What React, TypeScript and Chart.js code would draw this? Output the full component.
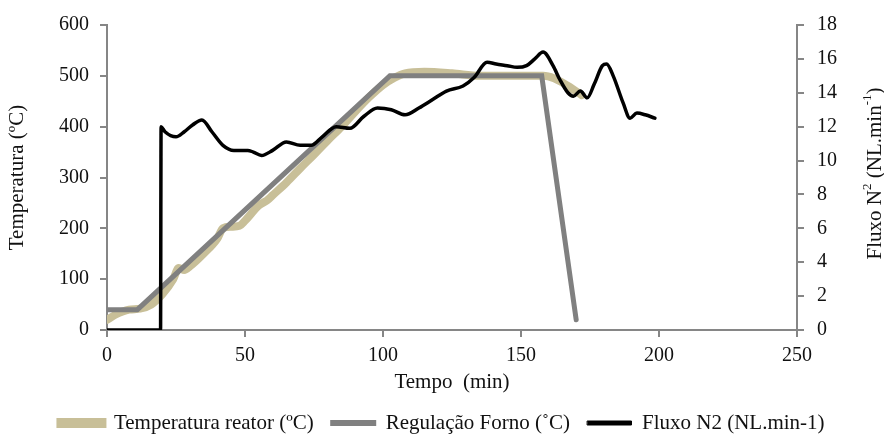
import React, { useEffect, useRef } from "react";
import { Chart, registerables } from "chart.js";

Chart.register(...registerables);

// Temperatura reator (ºC) — time (min) and temperature
const reatorTime = [0, 3, 8, 12, 16, 20, 24, 26, 28, 30, 35, 40, 42, 45, 48, 50, 55, 58, 60, 65, 70, 75, 80, 85, 90, 95, 100, 104, 108, 115, 125, 135, 145, 155, 158, 162, 167, 172];
const reatorTemp = [20, 30, 40, 42, 50, 70, 100, 122, 118, 125, 150, 180, 200, 203, 205, 215, 245, 255, 265, 290, 318, 345, 373, 400, 430, 458, 482, 496, 505, 508, 505, 500, 500, 500, 500, 495, 480, 462];

// Regulação Forno (˚C)
const fornoTime = [0, 11, 102.5, 157.5, 170];
const fornoTemp = [40, 40, 500, 500, 20];

// Fluxo N2 (NL.min-1)
const fluxoTime = [0, 19.4, 19.6, 21, 25, 28, 31, 34.4, 38, 42, 46, 51, 53, 56, 60, 65, 70, 74, 78, 83, 88, 93, 98, 103, 108, 113, 118, 123, 129, 133, 137.7, 141, 145, 148.6, 152, 155, 158, 161.6, 164, 167, 169, 171.5, 174, 176.5, 179.5, 181, 183.4, 187, 189.5, 192, 195, 198.5];
const fluxoValue = [0, 0, 12.0, 11.7, 11.4, 11.7, 12.1, 12.4, 11.7, 10.9, 10.6, 10.6, 10.5, 10.3, 10.6, 11.1, 10.9, 10.9, 11.4, 12.0, 11.9, 12.6, 13.1, 13.0, 12.7, 13.1, 13.6, 14.1, 14.4, 14.9, 15.8, 15.7, 15.6, 15.5, 15.6, 16.0, 16.4, 15.6, 14.8, 14.0, 13.8, 14.1, 13.7, 14.5, 15.6, 15.7, 15.0, 13.4, 12.5, 12.8, 12.7, 12.5];

const seriesLabels = ["Temperatura reator (ºC)", "Regulação Forno (˚C)", "Fluxo N2 (NL.min-1)"];
const xTitle = "Tempo  (min)";
const yLeftTitle = "Temperatura (ºC)";

const FONT = "'Liberation Serif', 'Times New Roman', serif";
const AXIS = "#868686";
const TAN = "#c8bf98";
const GRAY = "#808080";
const TEXT = "#111";

const pts = (xs: number[], ys: number[]) => xs.map((x, i) => ({ x, y: ys[i] }));

const rightTitlePlugin = {
  id: "rightTitle",
  afterDraw(chart: any) {
    const ctx = chart.ctx;
    const area = chart.chartArea;
    const cx = 875;
    const cy = (area.top + area.bottom) / 2 - 4;
    const parts: [string, boolean][] = [
      ["Fluxo N", false],
      ["2", true],
      [" (NL.min", false],
      ["-1", true],
      [")", false],
    ];
    const big = `21px ${FONT}`;
    const small = `13px ${FONT}`;
    ctx.save();
    let total = 0;
    for (const [t, sup] of parts) {
      ctx.font = sup ? small : big;
      total += ctx.measureText(t).width;
    }
    ctx.translate(cx, cy);
    ctx.rotate(-Math.PI / 2);
    ctx.fillStyle = TEXT;
    ctx.textBaseline = "middle";
    ctx.textAlign = "left";
    let x = -total / 2;
    for (const [t, sup] of parts) {
      ctx.font = sup ? small : big;
      ctx.fillText(t, x, sup ? -7 : 0);
      x += ctx.measureText(t).width;
    }
    ctx.restore();
  },
};

export default function App() {
  const ref = useRef<HTMLCanvasElement | null>(null);
  useEffect(() => {
    if (!ref.current) return;
    const chart = new Chart(ref.current, {
      type: "line",
      data: {
        datasets: [
          {
            label: seriesLabels[0],
            data: pts(reatorTime, reatorTemp),
            borderColor: TAN,
            backgroundColor: TAN,
            borderWidth: 8,
            pointRadius: 0,
            cubicInterpolationMode: "monotone",
            borderCapStyle: "round",
            borderJoinStyle: "round",
            yAxisID: "y",
            order: 3,
          },
          {
            label: seriesLabels[1],
            data: pts(fornoTime, fornoTemp),
            borderColor: GRAY,
            backgroundColor: GRAY,
            borderWidth: 5,
            pointRadius: 0,
            tension: 0,
            borderCapStyle: "round",
            yAxisID: "y",
            order: 2,
          },
          {
            label: seriesLabels[2],
            data: pts(fluxoTime, fluxoValue),
            borderColor: "#000",
            backgroundColor: "#000",
            borderWidth: 3.5,
            pointRadius: 0,
            cubicInterpolationMode: "monotone",
            borderCapStyle: "round",
            borderJoinStyle: "round",
            yAxisID: "y1",
            order: 1,
          },
        ],
      },
      options: {
        responsive: false,
        animation: false,
        layout: { padding: { left: 0, right: 0, top: 22, bottom: 0 } },
        plugins: {
          tooltip: { enabled: false },
          legend: {
            position: "bottom",
            maxHeight: 39,
            labels: {
              font: { family: FONT, size: 21 },
              color: TEXT,
              boxWidth: 44,
              boxHeight: 4,
              padding: 17.5,
              sort: (a: any, b: any) => a.datasetIndex - b.datasetIndex,
              generateLabels: (chart: any) =>
                chart.data.datasets.map((ds: any, i: number) => ({
                  text: ds.label,
                  fillStyle: ds.borderColor,
                  strokeStyle: ds.borderColor,
                  lineWidth: i === 0 ? 6 : i === 1 ? 2 : 1,
                  lineCap: "round",
                  hidden: false,
                  datasetIndex: i,
                  fontColor: TEXT,
                })),
            },
          },
        },
        scales: {
          x: {
            type: "linear",
            min: 0,
            max: 250,
            ticks: { stepSize: 50, color: TEXT, font: { family: FONT, size: 20 }, padding: 7 },
            border: { color: AXIS, width: 2 },
            grid: { drawOnChartArea: false, drawTicks: true, tickLength: 7, color: AXIS, lineWidth: 2 },
            title: { display: true, text: xTitle, color: TEXT, font: { family: FONT, size: 21 }, padding: { top: 0, bottom: 0 } },
            afterFit: (s: any) => { s.height = 65; },
          },
          y: {
            type: "linear",
            position: "left",
            min: 0,
            max: 600,
            ticks: { stepSize: 100, color: TEXT, font: { family: FONT, size: 20 }, padding: 11 },
            border: { color: AXIS, width: 2 },
            grid: { drawOnChartArea: false, drawTicks: true, tickLength: 7, color: AXIS, lineWidth: 2 },
            title: { display: true, text: yLeftTitle, color: TEXT, font: { family: FONT, size: 21 }, padding: { top: 5, bottom: 0 } },
            afterFit: (s: any) => { s.width = 107; },
          },
          y1: {
            type: "linear",
            position: "right",
            min: 0,
            max: 18,
            ticks: { stepSize: 2, color: TEXT, font: { family: FONT, size: 20 }, padding: 13 },
            border: { color: AXIS, width: 2 },
            grid: { drawOnChartArea: false, drawTicks: true, tickLength: 7, color: AXIS, lineWidth: 2 },
            afterFit: (s: any) => { s.width = 87; },
          },
        },
      },
      plugins: [rightTitlePlugin],
    } as any);
    return () => chart.destroy();
  }, []);
  return (
    <canvas
      ref={ref}
      width={884}
      height={434}
      style={{ position: "absolute", left: 0, top: 0, width: 884, height: 434, background: "#fff" }}
    />
  );
}
